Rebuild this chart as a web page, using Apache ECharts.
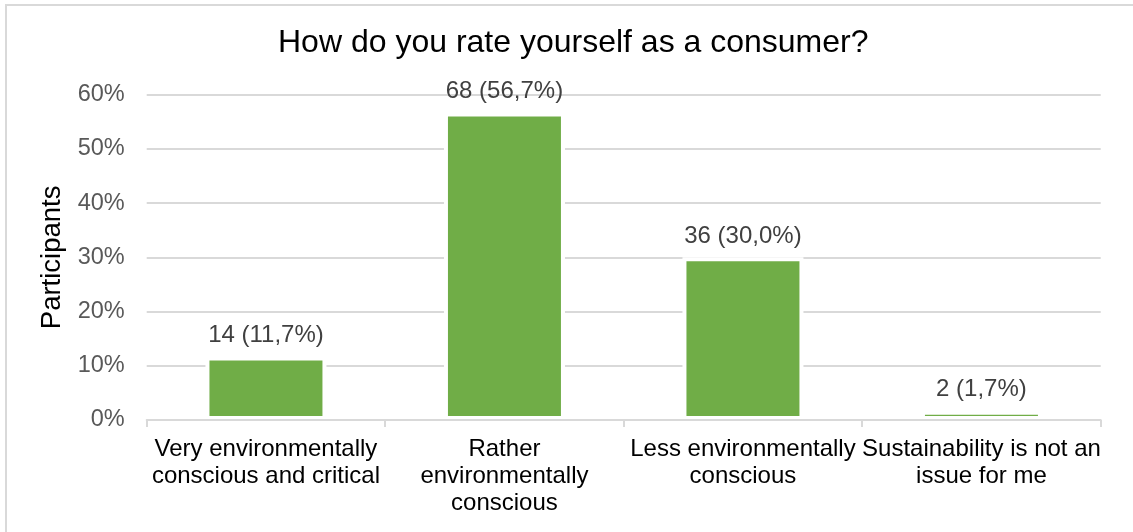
<!DOCTYPE html>
<html>
<head>
<meta charset="utf-8">
<title>How do you rate yourself as a consumer?</title>
<script src="https://cdn.jsdelivr.net/npm/echarts@6/dist/echarts.min.js"></script>
<style>
  html, body { margin: 0; padding: 0; background: #fff; }
  #chart { width: 1133px; height: 532px; }
</style>
</head>
<body>
<div id="chart"></div>
<script>
// Survey answers: how participants rate themselves as consumers
const categories = [
  'Very environmentally\nconscious and critical',
  'Rather\nenvironmentally\nconscious',
  'Less environmentally\nconscious',
  'Sustainability is not an\nissue for me'
];
const counts = [14, 68, 36, 2];
const percents = [11.7, 56.7, 30.0, 1.7];
const yTicks = [0, 10, 20, 30, 40, 50, 60];

const FONT = '"Liberation Sans", Arial, sans-serif';

const chart = echarts.init(document.getElementById('chart'), null, { renderer: 'canvas' });

chart.setOption({
  backgroundColor: '#ffffff',
  animation: false,
  title: {
    text: 'How do you rate yourself as a consumer?',
    left: 278,
    top: 27,
    padding: 0,
    textStyle: { fontFamily: FONT, fontSize: 32, fontWeight: 'normal', color: '#000000' }
  },
  graphic: [{
    type: 'rect',
    silent: true,
    shape: { x: 6, y: 5, width: 1300, height: 700 },
    style: { fill: 'none', stroke: '#d9d9d9', lineWidth: 2 }
  }],
  grid: { left: 146.7, right: 32.3, top: 94.7, bottom: 112, containLabel: false },
  xAxis: {
    type: 'category',
    data: categories,
    z: 5,
    axisLine: { show: true, lineStyle: { color: '#d9d9d9', width: 2 } },
    axisTick: { show: true, length: 7, lineStyle: { color: '#d9d9d9', width: 2 } },
    axisLabel: {
      interval: 0,
      margin: 16,
      fontFamily: FONT,
      fontSize: 24,
      lineHeight: 27,
      color: '#000000',
      align: 'center'
    },
    splitLine: { show: false }
  },
  yAxis: {
    type: 'value',
    min: yTicks[0],
    max: yTicks[yTicks.length - 1],
    interval: 10,
    name: 'Participants',
    nameLocation: 'middle',
    nameGap: 79,
    nameTextStyle: { fontFamily: FONT, fontSize: 27.5, color: '#000000' },
    axisLine: { show: false },
    axisTick: { show: false },
    axisLabel: {
      margin: 22,
      fontFamily: FONT,
      fontSize: 23.5,
      color: '#595959',
      formatter: v => v + '%'
    },
    splitLine: { show: true, lineStyle: { color: '#d9d9d9', width: 2 } }
  },
  series: [{
    type: 'bar',
    data: percents,
    barWidth: 121,
    itemStyle: { color: '#70AD47', borderColor: '#ffffff', borderWidth: 4 },
    label: {
      show: true,
      position: 'top',
      distance: 9,
      fontFamily: FONT,
      fontSize: 24,
      color: '#404040',
      formatter: p => counts[p.dataIndex] + ' (' + percents[p.dataIndex].toFixed(1).replace('.', ',') + '%)'
    }
  }]
});
</script>
</body>
</html>
